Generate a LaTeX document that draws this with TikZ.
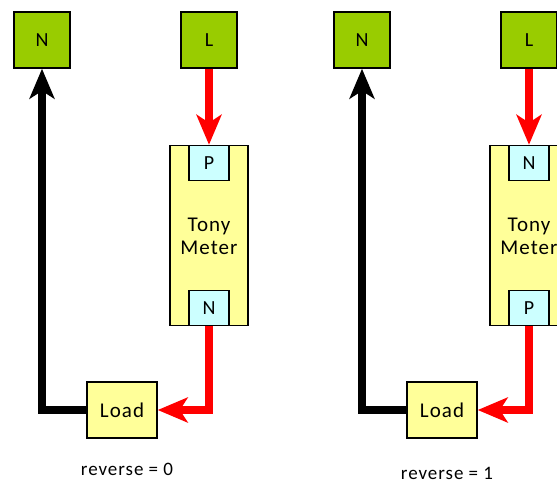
\documentclass[tikz,border=0pt]{standalone}
\usepackage{fontspec}
\setmainfont{Carlito}[LetterSpace=5]
\usetikzlibrary{arrows.meta}
\definecolor{grn}{HTML}{99CC00}
\definecolor{ylw}{HTML}{FFFF99}
\definecolor{cyn}{HTML}{CCFFFF}
\definecolor{rd}{HTML}{FF0000}
\tikzset{
  term/.style={draw=black, line width=1.5pt, fill=grn, minimum width=56pt, minimum height=56pt, inner sep=0pt, font=\fontsize{20}{23}\selectfont},
  meter/.style={draw=black, line width=1.5pt, fill=ylw, minimum width=78pt, minimum height=180pt, inner sep=0pt},
  port/.style={draw=black, line width=1.5pt, fill=cyn, minimum width=40pt, minimum height=35pt, inner sep=0pt, font=\fontsize{20}{23}\selectfont},
  loadbox/.style={draw=black, line width=1.5pt, fill=ylw, minimum width=70pt, minimum height=56pt, inner sep=0pt, font=\fontsize{21}{23}\selectfont},
  mtext/.style={align=center, font=\fontsize{21}{23}\selectfont},
  lbl/.style={inner sep=0pt, font=\fontsize{19}{22}\selectfont},
  redarr/.style={draw=rd, line width=7.5pt, -{Stealth[length=30pt, width=25pt, inset=8pt]}},
  blkarr/.style={draw=black, line width=7.5pt, -{Stealth[length=30pt, width=25pt, inset=8pt]}},
}
\begin{document}
\begin{tikzpicture}[x=1pt, y=-1pt]
\useasboundingbox (0,0) rectangle (557,483);
\clip (0,0) rectangle (557,483);
% left panel
\node[term] (n1) at (42,40) {N};
\node[term] (l1) at (209,40) {L};
\node[meter] (m1) at (209,235.5) {};
\node[port, anchor=north] (p1) at (m1.north) {P};
\node[port, anchor=south] (q1) at (m1.south) {N};
\node[mtext] (t1) at (209,236) {Tony\\Meter};
\node[loadbox] (ld1) at (122,410) {Load};
\node[lbl] (r1) at (127,469) {reverse = 0};
\draw[redarr] (l1.south) -- (p1.north);
\draw[redarr] (q1.south) |- (ld1.east);
\draw[blkarr] (ld1.west) -| (n1.south);
% right panel
\node[term] (n2) at (362,40) {N};
\node[term] (l2) at (529,40) {L};
\node[meter] (m2) at (529,235.5) {};
\node[port, anchor=north] (p2) at (m2.north) {N};
\node[port, anchor=south] (q2) at (m2.south) {P};
\node[mtext] (t2) at (529,236) {Tony\\Meter};
\node[loadbox] (ld2) at (442,410) {Load};
\node[lbl] (r2) at (447,473) {reverse = 1};
\draw[redarr] (l2.south) -- (p2.north);
\draw[redarr] (q2.south) |- (ld2.east);
\draw[blkarr] (ld2.west) -| (n2.south);
\end{tikzpicture}
\end{document}
